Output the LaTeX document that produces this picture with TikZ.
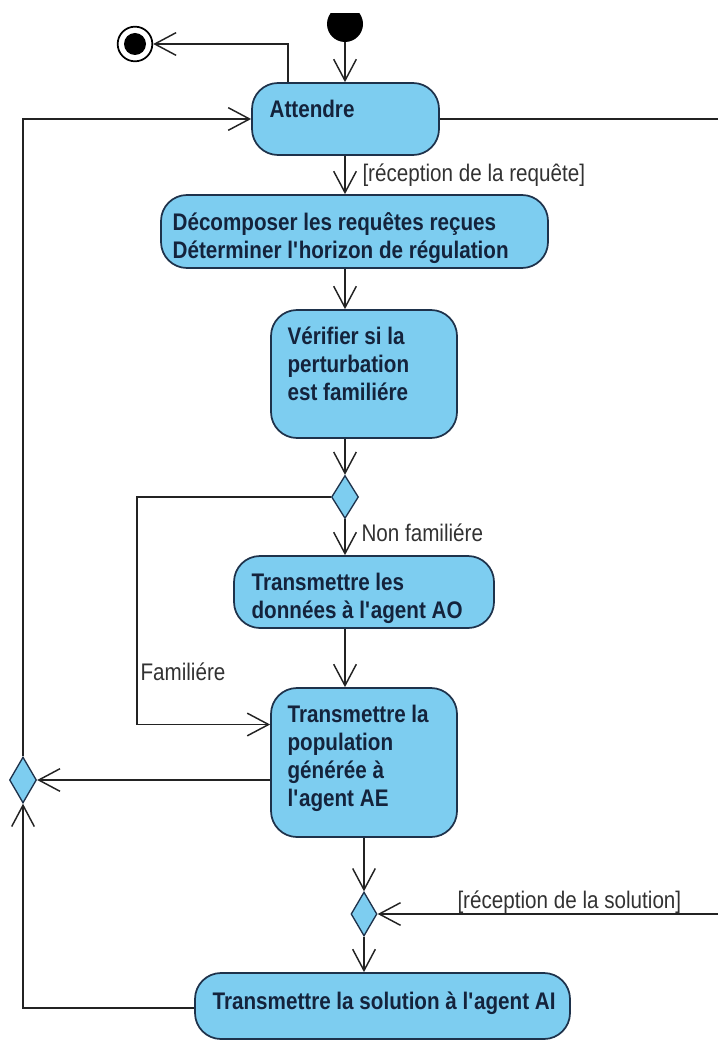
\documentclass[tikz,border=0pt]{standalone}
\usepackage{fontspec}
\setmainfont{Liberation Sans}[FakeStretch=0.86]
\usetikzlibrary{arrows.meta,shapes.geometric}

\definecolor{actfill}{RGB}{125,205,240}
\definecolor{actline}{RGB}{30,50,75}
\definecolor{acttext}{RGB}{20,35,60}
\definecolor{flowline}{RGB}{35,35,35}
\definecolor{guardtext}{RGB}{50,50,50}

\tikzset{every picture/.style={line width=0.75pt}}
\tikzset{
  actbox/.style={draw=actline, fill=actfill, line width=1.3pt, rounded corners=19.5pt, inner sep=0pt},
  acttxt/.style={anchor=north west, inner sep=0pt, align=left, text=acttext, font=\fontsize{18}{21}\selectfont\bfseries},
  decbox/.style={diamond, draw=actline, fill=actfill, line width=1pt, inner sep=0pt, minimum width=20.25pt},
  guard/.style={anchor=base west, inner sep=0pt, text=guardtext, font=\fontsize{18}{21}\selectfont},
  flow/.style={draw=flowline, line width=1.1pt},
  startnode/.style={circle, fill=black, inner sep=0pt, minimum size=27pt},
  endnode/.style={circle, draw=black, line width=1.3pt, inner sep=0pt, minimum size=26pt,
    path picture={\fill[black] (path picture bounding box.center) circle (8.25pt);}},
  >={Straight Barb[length=16pt,width=17pt]}
}

\begin{document}
\begin{tikzpicture}[x=0.75pt,y=0.75pt,yscale=-1,xscale=1]
\useasboundingbox (0,0) rectangle (718,1041);

%Start / End
\begin{scope}
\clip (300,14) rectangle (390,60);
\node [startnode] (start) at (345,24) {};
\end{scope}
\node [endnode] (final) at (135,44) {};

%Rounded Rect
\node [actbox, minimum width=140.25pt, minimum height=54pt] (attendre) at (345.5,119) {};
\node [acttxt] (attendre-t) at ([xshift=13.5pt,yshift=12.75pt]attendre.north west) {Attendre};
%Rounded Rect
\node [actbox, minimum width=290.25pt, minimum height=54.75pt] (decomp) at (354.5,231.5) {};
\node [acttxt] (decomp-t) at ([xshift=9pt,yshift=13.5pt]decomp.north west) {Décomposer les requêtes reçues\\Déterminer l\textquotesingle horizon de régulation};
%Rounded Rect
\node [actbox, minimum width=139.5pt, minimum height=96pt] (verif) at (364,374) {};
\node [acttxt] (verif-t) at ([xshift=12.75pt,yshift=12.75pt]verif.north west) {Vérifier si la\\perturbation\\est familiére};
%Decision
\node [decbox, minimum height=32.25pt] (dec1) at (345,497) {};
%Rounded Rect
\node [actbox, minimum width=195pt, minimum height=54pt] (donnees) at (364,592) {};
\node [acttxt] (donnees-t) at ([xshift=13.5pt,yshift=12.75pt]donnees.north west) {Transmettre les\\données à l\textquotesingle agent AO};
%Rounded Rect
\node [actbox, minimum width=139.5pt, minimum height=111.75pt] (popul) at (364,762.5) {};
\node [acttxt] (popul-t) at ([xshift=12.75pt,yshift=12.75pt]popul.north west) {Transmettre la\\population\\générée à\\l\textquotesingle agent AE};
%Decision
\node [decbox, minimum height=34.5pt] (dec2) at (23,780) {};
%Merge
\node [decbox, minimum width=19.5pt, minimum height=33pt] (merge) at (364,914) {};
%Rounded Rect
\node [actbox, minimum width=281.25pt, minimum height=49.5pt] (solution) at (382.5,1006) {};
\node [acttxt] (solution-t) at ([xshift=13.5pt,yshift=14.25pt]solution.north west) {Transmettre la solution à l\textquotesingle agent AI};

\coordinate (famcorner) at (137,497);
\coordinate (rightedge) at (718,0);

%Straight Lines
\draw [flow,->] (start.south) -- (start.south |- attendre.north);
\draw [flow,->] ([xshift=27.75pt]attendre.north west) |- (final.east);
\draw [flow,->] (start |- attendre.south) -- (start |- decomp.north);
\draw [flow,->] (start |- decomp.south) -- (start |- verif.north);
\draw [flow,->] (start |- verif.south) -- (dec1.north);
\draw [flow,->] (dec1.south) -- (start |- donnees.north);
\draw [flow,->] (start |- donnees.south) -- (start |- popul.north);
\draw [flow,->] (dec1.west) -- (famcorner) |- ([yshift=-28.5pt]popul.west);
\draw [flow,->] (popul.west |- dec2.east) -- (dec2.east);
\draw [flow,->] (popul.south) -- (merge.north);
\draw [flow,->] (merge.east -| rightedge) -- (merge.east);
\draw [flow,->] (merge.south) -- (merge.south |- solution.north);
\draw [flow,->] ([yshift=1.5pt]solution.west) -| (dec2.south);
\draw [flow,->] (dec2.north) |- (attendre.west);
\draw [flow] (attendre.east) -- (attendre.east -| rightedge);

% Text Node
\node [guard] (g-requete) at (362,182) {[réception de la requête]};
% Text Node
\node [guard] (g-nonfam) at (361,541) {Non familiére};
% Text Node
\node [guard] (g-fam) at (140,680) {Familiére};
% Text Node
\node [guard] (g-solution) at (457,908) {[réception de la solution]};

\end{tikzpicture}
\end{document}
